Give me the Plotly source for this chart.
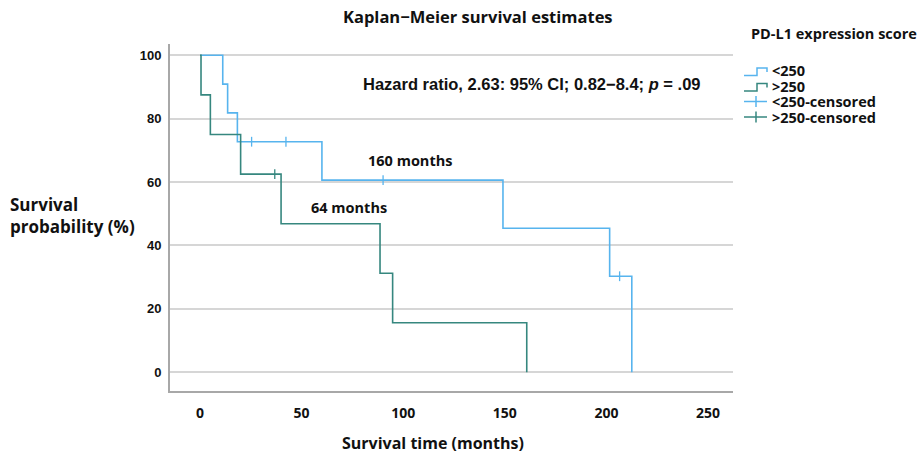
import plotly.graph_objects as go

# ---------------- data ----------------
# Kaplan-Meier step functions (time in months, survival in %)
low_times = [0, 11.2, 13.6, 18.4, 60.0, 149.1, 201.6, 212.5]
low_surv = [100, 90.91, 81.82, 72.73, 60.61, 45.45, 30.30, 0]
low_censor_times = [25.4, 42.3, 90.1, 206.5]

high_times = [0, 0.5, 5.1, 20.0, 39.9, 88.6, 94.8, 160.8]
high_surv = [100, 87.5, 75.0, 62.5, 46.88, 31.25, 15.63, 0]
high_censor_times = [36.8]

group_labels = ["<250", ">250"]
censor_labels = ["<250-censored", ">250-censored"]
median_labels = ["160 months", "64 months"]
x_ticks = [0, 50, 100, 150, 200, 250]
y_ticks = [0, 20, 40, 60, 80, 100]

BLUE = "#57b4ee"
GREEN = "#36877f"
BOLD_FONT = "Open Sans"


def surv_at(t, times, surv):
    val = surv[0]
    for ti, si in zip(times, surv):
        if ti <= t:
            val = si
    return val


low_censor_surv = [surv_at(t, low_times, low_surv) for t in low_censor_times]
high_censor_surv = [surv_at(t, high_times, high_surv) for t in high_censor_times]

fig = go.Figure()
fig.add_trace(go.Scatter(x=low_times, y=low_surv, mode="lines", line=dict(color=BLUE, width=1.6, shape="hv"),
                         name=group_labels[0], showlegend=False))
fig.add_trace(go.Scatter(x=high_times, y=high_surv, mode="lines", line=dict(color=GREEN, width=1.6, shape="hv"),
                         name=group_labels[1], showlegend=False))
fig.add_trace(go.Scatter(x=low_censor_times, y=low_censor_surv, mode="markers",
                         marker=dict(symbol="line-ns", size=7, line=dict(color=BLUE, width=1.3)),
                         name=censor_labels[0], showlegend=False))
fig.add_trace(go.Scatter(x=high_censor_times, y=high_censor_surv, mode="markers",
                         marker=dict(symbol="line-ns", size=7, line=dict(color=GREEN, width=1.3)),
                         name=censor_labels[1], showlegend=False))

# ---------------- layout ----------------
L, R, T, B = 170, 189, 44, 69
W, H = 922, 460
PW, PH = W - L - R, H - T - B


def px(x):
    return (x - L) / PW


def py(y):
    return (H - B - y) / PH


fig.update_layout(
    width=W, height=H,
    margin=dict(l=L, r=R, t=T, b=B),
    paper_bgcolor="white", plot_bgcolor="white",
    showlegend=False,
    font=dict(family=BOLD_FONT, color="#111111"),
)
fig.update_xaxes(range=[-14.76, 262.3], tickvals=x_ticks, showgrid=False, zeroline=False,
                 showline=True, linecolor="#a8a8a8", linewidth=2,
                 tickfont=dict(family="Open Sans", size=14, weight="bold", color="#111"),
                 ticks="", ticklabelstandoff=8)
fig.update_yaxes(range=[-5.9, 103.56], tickvals=y_ticks, showgrid=True, gridcolor="#d6d6d6", gridwidth=1.5,
                 zeroline=False, showline=True, linecolor="#a8a8a8", linewidth=2,
                 tickfont=dict(family="Liberation Sans", size=13, weight="bold", color="#111"),
                 ticks="", ticklabelstandoff=4)

ann = []
# title
ann.append(dict(text="<b>Kaplan\u2212Meier survival estimates</b>", x=px(478), y=py(17), xref="paper", yref="paper",
                showarrow=False, xanchor="center", yanchor="middle",
                font=dict(family=BOLD_FONT, size=16.5, color="#111")))
# axis titles
ann.append(dict(text="<b>Survival<br>probability (%)</b>", x=px(8), y=py(215), xref="paper", yref="paper",
                showarrow=False, xanchor="left", yanchor="middle", align="left",
                font=dict(family=BOLD_FONT, size=17, color="#111")))
ann.append(dict(text="<b>Survival time (months)</b>", x=px(433), y=py(443), xref="paper", yref="paper",
                showarrow=False, xanchor="center", yanchor="middle",
                font=dict(family=BOLD_FONT, size=16, color="#111")))
# hazard ratio
ann.append(dict(text="<b>Hazard ratio, 2.63: 95% CI; 0.82\u22128.4; <i>p</i> = .09</b>", x=px(361), y=py(84),
                xref="paper", yref="paper", showarrow=False, xanchor="left", yanchor="middle",
                font=dict(family="Liberation Sans", size=16.5, color="#111")))
# medians
ann.append(dict(text="<b>" + median_labels[0] + "</b>", x=px(366), y=py(160), xref="paper", yref="paper",
                showarrow=False, xanchor="left", yanchor="middle",
                font=dict(family=BOLD_FONT, size=14.5, color="#111")))
ann.append(dict(text="<b>" + median_labels[1] + "</b>", x=px(309), y=py(207), xref="paper", yref="paper",
                showarrow=False, xanchor="left", yanchor="middle",
                font=dict(family=BOLD_FONT, size=14.5, color="#111")))
# legend
ann.append(dict(text="<b>PD-L1 expression score</b>", x=px(749), y=py(33), xref="paper", yref="paper",
                showarrow=False, xanchor="left", yanchor="middle",
                font=dict(family=BOLD_FONT, size=14.5, color="#111")))
rows = [70.5, 86, 101.5, 117]
labels = group_labels + censor_labels
colors = [BLUE, GREEN, BLUE, GREEN]
shapes = []
for i, (ry, lab, col) in enumerate(zip(rows, labels, colors)):
    ann.append(dict(text="<b>" + lab + "</b>", x=px(771), y=py(ry), xref="paper", yref="paper",
                    showarrow=False, xanchor="left", yanchor="middle", borderpad=0,
                    font=dict(family=BOLD_FONT, size=14.5, color="#111")))
    if i < 2:
        path = "M {} {} L {} {} L {} {} L {} {} L {} {}".format(
            px(744), py(ry + 5), px(757), py(ry + 5), px(757), py(ry - 2.5), px(767), py(ry - 2.5),
            px(767), py(ry + 1.5))
        shapes.append(dict(type="path", path=path, xref="paper", yref="paper",
                           line=dict(color=col, width=1.5)))
    else:
        shapes.append(dict(type="line", x0=px(744), x1=px(767), y0=py(ry), y1=py(ry), xref="paper",
                           yref="paper", line=dict(color=col, width=1.5)))
        shapes.append(dict(type="line", x0=px(756), x1=px(756), y0=py(ry - 5.5), y1=py(ry + 5.5), xref="paper",
                           yref="paper", line=dict(color=col, width=1.5)))

fig.update_layout(annotations=ann, shapes=shapes)
fig.write_html("out.html", config={"displayModeBar": False},
               post_script="document.body.style.margin='0px';")
